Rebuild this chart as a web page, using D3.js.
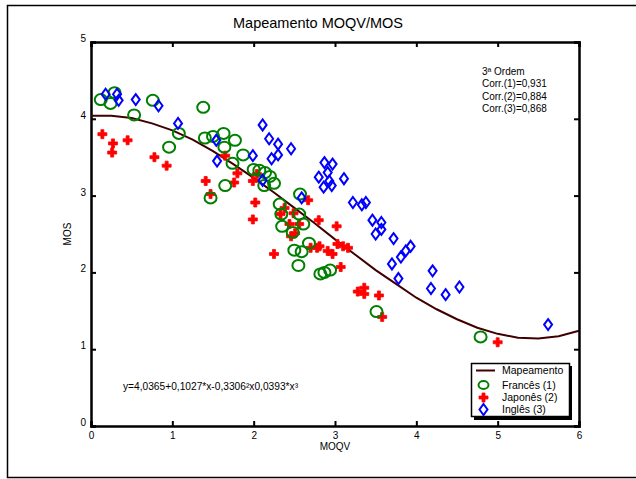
<!DOCTYPE html>
<html><head><meta charset="utf-8">
<script src="https://cdn.jsdelivr.net/npm/d3@7"></script>
<style>
body{margin:0;background:#fff;}
svg{display:block;font-family:"Liberation Sans",Arial,sans-serif;}
</style></head>
<body>
<svg id="c" width="636" height="479"></svg>
<script>
const xTicks = [0,1,2,3,4,5,6];
const yTicks = [0,1,2,3,4,5];

// Mapeamento curve
const curveX = [0,0.25,0.5,0.75,1,1.25,1.5,1.75,2,2.25,2.5,2.75,3,3.25,3.5,3.75,4,4.25,4.5,4.75,5,5.25,5.5,5.75,6];
const curveY = [4.04,4.04,4.01,3.94,3.85,3.73,3.58,3.41,3.23,3.04,2.84,2.64,2.43,2.23,2.03,1.85,1.67,1.52,1.39,1.28,1.20,1.15,1.14,1.17,1.24];

// Francês (1)
const frX = [0.12,0.24,0.29,0.76,0.53,1.38,1.08,0.96,1.40,1.50,1.63,1.64,1.77,1.87,1.74,2.00,2.07,2.14,2.20,2.25,2.13,1.65,1.47,2.57,2.32,2.34,2.56,2.61,2.35,2.48,2.68,2.50,2.59,2.55,2.82,2.87,2.94,3.51,4.79];
const frY = [4.25,4.20,4.34,4.24,4.05,4.15,3.81,3.63,3.75,3.77,3.81,3.63,3.72,3.53,3.42,3.34,3.33,3.30,3.25,3.16,3.13,3.13,2.97,3.02,2.89,2.76,2.76,2.63,2.60,2.52,2.38,2.29,2.27,2.09,1.98,2.00,2.03,1.49,1.16];

// Japonês (2)
const jpX = [0.14,0.27,0.26,0.45,0.78,0.93,1.65,1.80,2.04,1.41,1.47,1.76,1.99,2.02,1.99,2.38,2.33,2.49,2.67,2.80,3.02,2.44,2.56,2.51,2.46,2.25,2.70,2.78,2.81,2.91,2.97,3.03,3.10,3.16,3.07,3.28,3.36,3.36,3.54,3.58,5.00];
const jpY = [3.80,3.68,3.56,3.72,3.50,3.39,3.52,3.29,3.28,3.19,3.02,3.17,3.19,2.91,2.69,2.84,2.76,2.77,2.94,2.68,2.60,2.63,2.63,2.51,2.47,2.24,2.32,2.32,2.34,2.28,2.24,2.37,2.34,2.32,2.07,1.75,1.80,1.72,1.70,1.42,1.09];

// Inglês (3)
const enX = [0.18,0.32,0.34,0.55,0.83,1.07,1.54,1.55,1.99,2.11,2.19,2.30,2.46,2.22,2.30,2.11,2.87,2.97,2.91,2.80,2.93,2.86,2.96,3.11,2.59,3.22,3.33,3.38,3.46,3.57,3.57,3.50,3.72,3.70,3.81,3.87,3.93,3.78,4.20,4.18,4.36,4.53,5.62];
const enY = [4.32,4.32,4.24,4.25,4.17,3.94,3.72,3.45,3.52,3.92,3.74,3.67,3.61,3.48,3.53,3.20,3.43,3.41,3.30,3.24,3.19,3.11,3.13,3.22,2.97,2.91,2.88,2.91,2.68,2.65,2.56,2.50,2.44,2.11,2.20,2.28,2.34,1.92,2.02,1.79,1.71,1.81,1.32];

const legendLabels = ["Mapeamento","Francês (1)","Japonês (2)","Inglês (3)"];
const corrLines = ["3ª Ordem","Corr.(1)=0,931","Corr.(2)=0,884","Corr.(3)=0,868"];
const equationText = "y=4,0365+0,1027*x-0,3306²x0,0393*x³";

const svg = d3.select("#c");
const x = d3.scaleLinear().domain([0,6]).range([91,579]);
const y = d3.scaleLinear().domain([0,5]).range([426,42]);

// outer frame
svg.append("rect").attr("x",7.5).attr("y",5.5).attr("width",700).attr("height",472)
  .attr("fill","none").attr("stroke","#000").attr("stroke-width",1.5);

// title
svg.append("text").attr("x",318).attr("y",28).attr("text-anchor","middle")
  .attr("font-size",14.5).text("Mapeamento MOQV/MOS");

// axes
const fs = 10;
const gB = svg.append("g").attr("transform",`translate(0,${y(0)})`)
  .call(d3.axisBottom(x).tickValues(xTicks).tickSize(-5).tickPadding(3).tickFormat(d3.format("d")));
const gT = svg.append("g").attr("transform",`translate(0,${y(5)})`)
  .call(d3.axisTop(x).tickValues(xTicks).tickSize(-5).tickFormat(""));
const gL = svg.append("g").attr("transform",`translate(${x(0)},0)`)
  .call(d3.axisLeft(y).tickValues(yTicks).tickSize(-5).tickPadding(5).tickFormat(d3.format("d")));
const gR = svg.append("g").attr("transform",`translate(${x(6)},0)`)
  .call(d3.axisRight(y).tickValues(yTicks).tickSize(-5).tickFormat(""));
[gB,gT,gL,gR].forEach(g=>{
  g.select(".domain").attr("stroke","#000").attr("stroke-width",2.5);
  g.selectAll(".tick line").attr("stroke","#000").attr("stroke-width",2);
  g.selectAll("text").attr("font-size",fs).attr("font-family","Liberation Sans, Arial, sans-serif").attr("fill","#000");
});
gL.selectAll(".tick text").attr("dy","-0.05em");
gB.selectAll(".tick text").attr("dy","0.95em");

// axis titles
svg.append("text").attr("x",(x(0)+x(6))/2).attr("y",450).attr("text-anchor","middle")
  .attr("font-size",10).text("MOQV");
svg.append("text").attr("transform",`translate(71,${(y(0)+y(5))/2}) rotate(-90)`)
  .attr("text-anchor","middle").attr("font-size",10).text("MOS");

// curve
const curvePts = curveX.map((v,i)=>[v,curveY[i]]);
svg.append("path").datum(curvePts)
  .attr("d",d3.line().x(d=>x(d[0])).y(d=>y(d[1])))
  .attr("fill","none").attr("stroke","#400000").attr("stroke-width",2);

// markers
const crossPath = "M-1.5,-4.5H1.5V-1.5H4.5V1.5H1.5V4.5H-1.5V1.5H-4.5V-1.5H-1.5Z";
const diamondPath = "M0,-5.5L4,0L0,5.5L-4,0Z";
const gm = svg.append("g");
gm.selectAll(".jp").data(jpX.map((v,i)=>[v,jpY[i]])).join("path")
  .attr("transform",d=>`translate(${x(d[0])},${y(d[1])})`)
  .attr("d",crossPath).attr("fill","#ff0000").attr("stroke","#ff0000").attr("stroke-width",0.8);
gm.selectAll(".fr").data(frX.map((v,i)=>[v,frY[i]])).join("ellipse")
  .attr("cx",d=>x(d[0])).attr("cy",d=>y(d[1])).attr("rx",6).attr("ry",5.5)
  .attr("fill","none").attr("stroke","#008000").attr("stroke-width",2);
gm.selectAll(".en").data(enX.map((v,i)=>[v,enY[i]])).join("path")
  .attr("transform",d=>`translate(${x(d[0])},${y(d[1])})`)
  .attr("d",diamondPath).attr("fill","none").attr("stroke","#0000ff").attr("stroke-width",2);

// correlation text
svg.append("g").selectAll("text").data(corrLines).join("text")
  .attr("x",482).attr("y",(d,i)=>75+i*12.3).attr("font-size",10).text(d=>d);

// equation
svg.append("text").attr("x",123).attr("y",390).attr("font-size",10.2).text(equationText);

// legend
const lg = svg.append("g");
lg.append("rect").attr("x",474).attr("y",366).attr("width",98).attr("height",54).attr("fill","#000");
lg.append("rect").attr("x",471.5).attr("y",363.5).attr("width",98).attr("height",53)
  .attr("fill","#fff").attr("stroke","#000").attr("stroke-width",1.5);
const ly = [370.5,385,397.5,409.5];
lg.append("line").attr("x1",476).attr("x2",495).attr("y1",ly[0]).attr("y2",ly[0])
  .attr("stroke","#400000").attr("stroke-width",2);
lg.append("ellipse").attr("cx",483.5).attr("cy",ly[1]).attr("rx",5).attr("ry",4)
  .attr("fill","none").attr("stroke","#008000").attr("stroke-width",2);
lg.append("path").attr("transform",`translate(483.5,${ly[2]})`).attr("d",crossPath)
  .attr("fill","#ff0000").attr("stroke","#ff0000").attr("stroke-width",0.8);
lg.append("path").attr("transform",`translate(483.5,${ly[3]})`).attr("d",diamondPath)
  .attr("fill","none").attr("stroke","#0000ff").attr("stroke-width",2);
lg.selectAll(".lt").data(legendLabels).join("text")
  .attr("x",502).attr("y",(d,i)=>ly[i]+3.5).attr("font-size",10.5).text(d=>d);
</script>
</body></html>
